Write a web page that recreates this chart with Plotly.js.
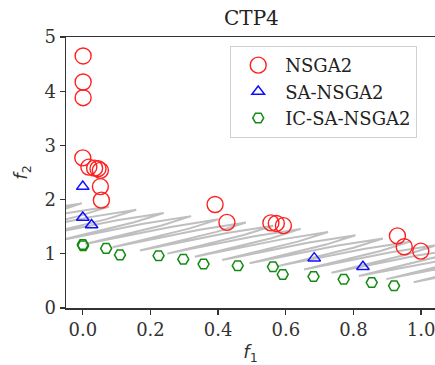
<!DOCTYPE html>
<html>
<head>
<meta charset="utf-8">
<script src="https://cdn.plot.ly/plotly-3.0.1.min.js"></script>
<style>html,body{margin:0;padding:0;background:#fff;overflow:hidden}#chart{width:435px;height:365px}</style>
</head>
<body>
<div id="chart"></div>
<script>
// Constraint boundary (gray zigzag)
const grayF1 = [-0.397,-0.140,-0.003,-0.090, -0.317,-0.060,0.078,-0.010, -0.236,0.021,0.158,0.071, -0.155,0.102,0.239,0.152, -0.074,0.183,0.320,0.233, 0.007,0.264,0.401,0.314, 0.088,0.345,0.482,0.395, 0.169,0.426,0.563,0.476, 0.250,0.507,0.644,0.557, 0.331,0.588,0.725,0.638, 0.412,0.669,0.806,0.719, 0.493,0.750,0.887,0.800, 0.573,0.830,0.967,0.880, 0.654,0.911,1.048,0.961, 0.735,0.992,1.129,1.042, 0.816,1.073,1.210,1.123, 0.897,1.154,1.291,1.204, 0.978,1.235,1.372,1.285, 1.059,1.316,1.453,1.366, 1.140];
const grayF2 = [1.474,1.795,1.930,1.758, 1.415,1.736,1.871,1.699, 1.356,1.677,1.812,1.640, 1.297,1.618,1.753,1.581, 1.239,1.560,1.695,1.523, 1.180,1.501,1.636,1.464, 1.121,1.442,1.577,1.405, 1.062,1.383,1.518,1.346, 1.003,1.324,1.459,1.287, 0.945,1.266,1.401,1.229, 0.886,1.207,1.342,1.170, 0.827,1.148,1.283,1.111, 0.768,1.089,1.224,1.052, 0.709,1.030,1.165,0.993, 0.651,0.972,1.107,0.935, 0.592,0.913,1.048,0.876, 0.533,0.854,0.989,0.817, 0.474,0.795,0.930,0.758, 0.415,0.736,0.871,0.699, 0.357];

// NSGA2
const nsgaF1 = [0.001, 0.001, 0.001, 0.000, 0.018, 0.035, 0.045, 0.052, 0.052, 0.055, 0.391, 0.426, 0.556, 0.572, 0.593, 0.930, 0.950, 0.999];
const nsgaF2 = [4.65, 4.17, 3.88, 2.77, 2.60, 2.58, 2.57, 2.54, 2.24, 1.99, 1.91, 1.58, 1.57, 1.56, 1.52, 1.33, 1.13, 1.05];

// SA-NSGA2
const saF1 = [0.000, 0.000, 0.026, 0.684, 0.828];
const saF2 = [2.24, 1.67, 1.53, 0.92, 0.76];

// IC-SA-NSGA2
const icF1 = [0.000, 0.001, 0.069, 0.110, 0.224, 0.297, 0.357, 0.458, 0.562, 0.591, 0.682, 0.771, 0.854, 0.920];
const icF2 = [1.17, 1.15, 1.10, 0.98, 0.965, 0.90, 0.81, 0.78, 0.76, 0.62, 0.58, 0.53, 0.47, 0.41];

const seriesNames = ['NSGA2', 'SA-NSGA2', 'IC-SA-NSGA2'];
const xTicks = [0, 0.2, 0.4, 0.6, 0.8, 1.0];
const yTicks = [0, 1, 2, 3, 4, 5];

const serif = 'DejaVu Serif, serif';

const traces = [
  {x: grayF1, y: grayF2, mode: 'lines', type: 'scatter', showlegend: false, hoverinfo: 'skip',
   line: {color: '#bfbfbf', width: 2}},
  {x: nsgaF1, y: nsgaF2, mode: 'markers', type: 'scatter', name: seriesNames[0],
   marker: {symbol: 'circle-open', size: 16, color: '#ff2020', line: {width: 1.4, color: '#ff2020'}}},
  {x: saF1, y: saF2, mode: 'markers', type: 'scatter', name: seriesNames[1],
   marker: {symbol: 'triangle-up-open', size: 11, color: '#1010ff', line: {width: 1.5, color: '#1010ff'}}},
  {x: icF1, y: icF2, mode: 'markers', type: 'scatter', name: seriesNames[2],
   marker: {symbol: 'hexagon2-open', size: 11, color: '#138a13', line: {width: 1.5, color: '#138a13'}}}
];

const layout = {
  width: 435, height: 365,
  margin: {l: 65.5, r: 0, t: 37, b: 57, pad: 0},
  paper_bgcolor: '#fff', plot_bgcolor: '#fff',
  title: {text: 'CTP4', font: {family: serif, size: 20, color: '#222'}, x: 0.578, xanchor: 'center', y: 0.952, yanchor: 'middle'},
  xaxis: {range: [-0.0496, 1.041], tickvals: xTicks, tickformat: '.1f', showgrid: false, zeroline: false,
    showline: true, linecolor: '#333', linewidth: 1.5, mirror: true, ticks: 'outside', ticklen: 5, tickwidth: 1.3, tickcolor: '#333',
    ticklabeloverflow: 'allow',
    tickfont: {family: serif, size: 18, color: '#333'},
    title: {text: '<i>f</i><sub>1</sub>', font: {family: 'DejaVu Sans, sans-serif', size: 18, color: '#333'}, standoff: 6}},
  yaxis: {range: [0, 5], tickvals: yTicks, showgrid: false, zeroline: false,
    showline: true, linecolor: '#333', linewidth: 1.5, mirror: false, ticks: 'outside', ticklen: 5, tickwidth: 1.3, tickcolor: '#333',
    tickfont: {family: serif, size: 18, color: '#333'},
    title: {text: '<i>f</i><sub>2</sub>', font: {family: 'DejaVu Sans, sans-serif', size: 18, color: '#333'}, standoff: 12}},
  legend: {x: 0.445, y: 0.967, xanchor: 'left', yanchor: 'top', bgcolor: 'rgba(255,255,255,0.85)',
    bordercolor: '#d0d0d0', borderwidth: 1, font: {family: serif, size: 18, color: '#222'}, tracegroupgap: 0, itemwidth: 44},
  showlegend: true
};

Plotly.newPlot('chart', traces, layout, {staticPlot: true, displayModeBar: false});
</script>
</body>
</html>
